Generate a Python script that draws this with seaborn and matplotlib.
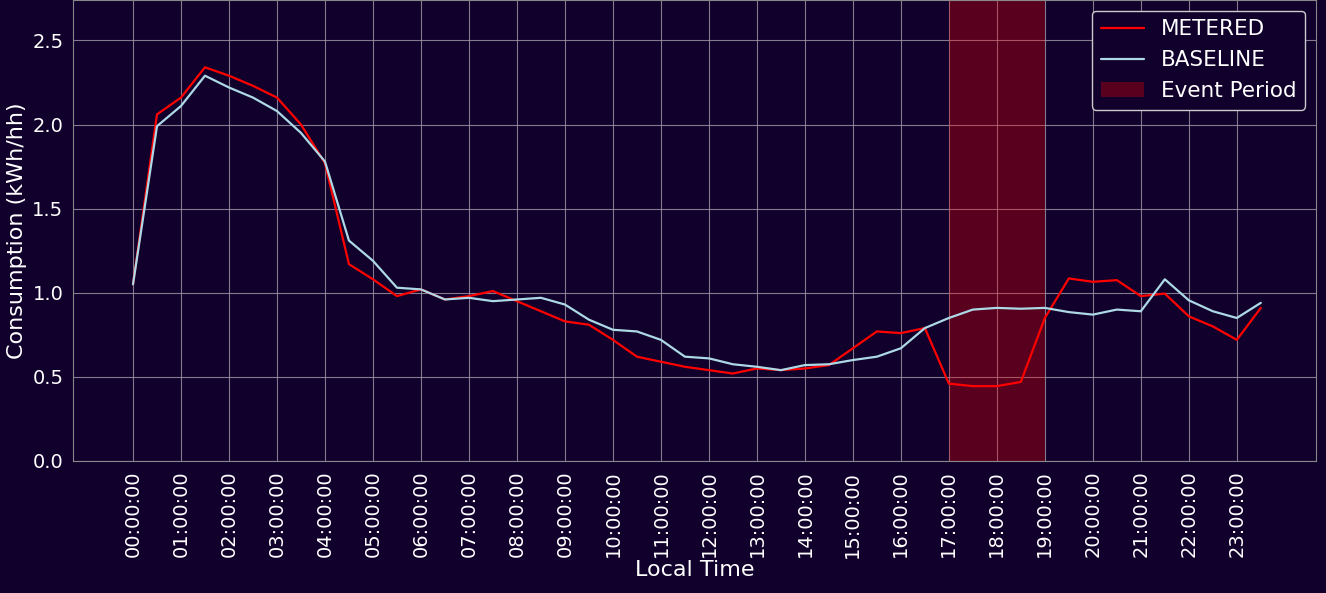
import numpy as np
import pandas as pd
import matplotlib
matplotlib.use("Agg")
import matplotlib.pyplot as plt
import seaborn as sns

BG = "#10002b"

times = [f"{h:02d}:{m:02d}:00" for h in range(24) for m in (0, 30)]
metered = [1.05, 2.06, 2.16, 2.34, 2.29, 2.23, 2.16, 2.00, 1.77, 1.17, 1.08, 0.98,
           1.02, 0.96, 0.98, 1.01, 0.95, 0.89, 0.83, 0.81, 0.72, 0.62, 0.59, 0.56,
           0.54, 0.52, 0.55, 0.54, 0.55, 0.57, 0.67, 0.77, 0.76, 0.79, 0.46, 0.445,
           0.445, 0.47, 0.85, 1.085, 1.065, 1.075, 0.98, 0.995, 0.86, 0.80, 0.72, 0.91]
baseline = [1.05, 1.99, 2.11, 2.29, 2.22, 2.16, 2.08, 1.95, 1.78, 1.31, 1.19, 1.03,
            1.02, 0.96, 0.97, 0.95, 0.96, 0.97, 0.93, 0.84, 0.78, 0.77, 0.72, 0.62,
            0.61, 0.575, 0.56, 0.54, 0.57, 0.575, 0.60, 0.62, 0.67, 0.79, 0.85, 0.90,
            0.91, 0.905, 0.91, 0.885, 0.87, 0.90, 0.89, 1.08, 0.955, 0.89, 0.85, 0.94]
event_start, event_end = "17:00:00", "19:00:00"

df = pd.DataFrame({"idx": range(len(times)), "time": times,
                   "METERED": metered, "BASELINE": baseline})

sns.set_style("dark")
plt.rcParams.update({
    "figure.facecolor": BG, "axes.facecolor": BG, "axes.edgecolor": "#888",
    "text.color": "white", "axes.labelcolor": "white",
    "xtick.color": "white", "ytick.color": "white",
})

fig = plt.figure(figsize=(13.26, 5.93), dpi=100)
ax = fig.add_axes([73 / 1326, 1 - 461 / 593, (1316 - 73) / 1326, 461 / 593])

sns.lineplot(data=df, x="idx", y="METERED", color="red", lw=1.6, label="METERED", ax=ax)
sns.lineplot(data=df, x="idx", y="BASELINE", color="lightblue", lw=1.6, label="BASELINE", ax=ax)
ax.axvspan(times.index(event_start), times.index(event_end), color="red", alpha=0.3,
           lw=0, label="Event Period")

ax.set_xlim(-2.5, 49.3)
ax.set_ylim(0, 2.74)
ax.set_xticks(range(0, len(times), 2))
ax.set_xticklabels(times[::2], rotation=90, fontsize=14)
ax.tick_params(axis="y", labelsize=14)
ax.grid(True, color="#a09aa8", lw=0.8, alpha=0.8)
ax.set_axisbelow(True)
ax.set_xlabel("Local Time", fontsize=16, labelpad=2)
ax.set_ylabel("Consumption (kWh/hh)", fontsize=16)
for s in ax.spines.values():
    s.set_color("#888")
    s.set_linewidth(0.8)

leg = ax.legend(loc="upper right", fontsize=15.5, facecolor=BG, edgecolor="#ccc",
                framealpha=1, labelcolor="white")

fig.savefig("out.png", dpi=100, facecolor=BG)
